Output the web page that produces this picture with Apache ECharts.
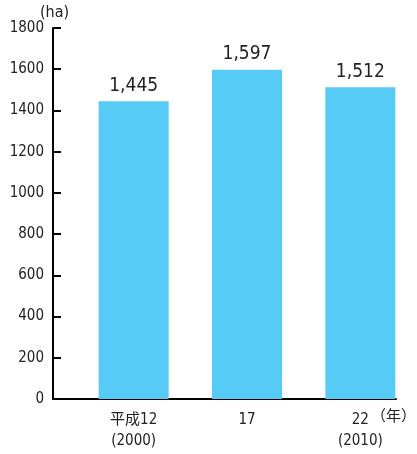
<!doctype html>
<html lang="ja">
<head>
<meta charset="utf-8">
<title>chart</title>
<script src="https://cdn.jsdelivr.net/npm/echarts@6/dist/echarts.min.js"></script>
<style>
  html, body { margin: 0; padding: 0; background: #fff; }
  #chart { width: 417px; height: 454px; }
</style>
</head>
<body>
<div id="chart"></div>
<script>
// data
let categories = ['平成12\n(2000)', '17', '22\n(2010)'];
let values = [1445, 1597, 1512];
let yTicks = [0, 200, 400, 600, 800, 1000, 1200, 1400, 1600, 1800];

let font = '"DejaVu Sans Condensed", "Noto Sans CJK JP", sans-serif';
let yMin = yTicks[0], yMax = yTicks[yTicks.length - 1];

let chart = echarts.init(document.getElementById('chart'));
let option = {
  animation: false,
  grid: [
    // bars sit a bit right of the axis frame, so they get their own grid
    { left: 77, right: 0, top: 28, bottom: 55, outerBoundsMode: 'none', containLabel: false },
    { left: 53, right: 21, top: 28, bottom: 55, outerBoundsMode: 'none', containLabel: false }
  ],
  xAxis: [{
    gridIndex: 0,
    type: 'category',
    data: categories,
    axisLine: { show: false },
    axisTick: { show: false },
    axisLabel: {
      color: '#222', fontSize: 15, lineHeight: 21, margin: 11,
      fontFamily: font
    }
  }, {
    gridIndex: 1,
    type: 'value', min: 0, max: 1,
    axisLine: { show: true, lineStyle: { color: '#000', width: 2 } },
    axisTick: { show: false },
    axisLabel: { show: false },
    splitLine: { show: false }
  }],
  yAxis: [{
    gridIndex: 0,
    type: 'value', min: yMin, max: yMax, interval: 200,
    show: false
  }, {
    gridIndex: 1,
    type: 'value',
    min: yMin, max: yMax, interval: 200,
    name: '(ha)',
    nameGap: 1,
    nameTextStyle: { color: '#222', fontSize: 16, fontFamily: font, align: 'left', padding: [0, 0, 0, -13] },
    splitLine: { show: false },
    axisLine: { show: true, lineStyle: { color: '#000', width: 2 } },
    axisTick: { show: true, inside: true, length: 8, lineStyle: { color: '#000', width: 2 } },
    axisLabel: {
      color: '#222', fontSize: 15, margin: 9, fontFamily: font,
      padding: [3, 0, 0, 0],
      formatter: function (v) { return String(v); }
    }
  }],
  series: [{
    type: 'bar',
    xAxisIndex: 0, yAxisIndex: 0,
    data: values,
    barWidth: 70,
    itemStyle: { color: '#56CBF5' },
    label: {
      show: true, position: 'top', distance: 6,
      color: '#222', fontSize: 19, fontFamily: font,
      formatter: function (p) { return p.value.toLocaleString('en-US'); }
    }
  }],
  graphic: [{
    type: 'text', left: 371, top: 410,
    style: { text: '（年）', fill: '#222', fontSize: 15, fontFamily: font }
  }]
};
chart.setOption(option);
</script>
</body>
</html>
